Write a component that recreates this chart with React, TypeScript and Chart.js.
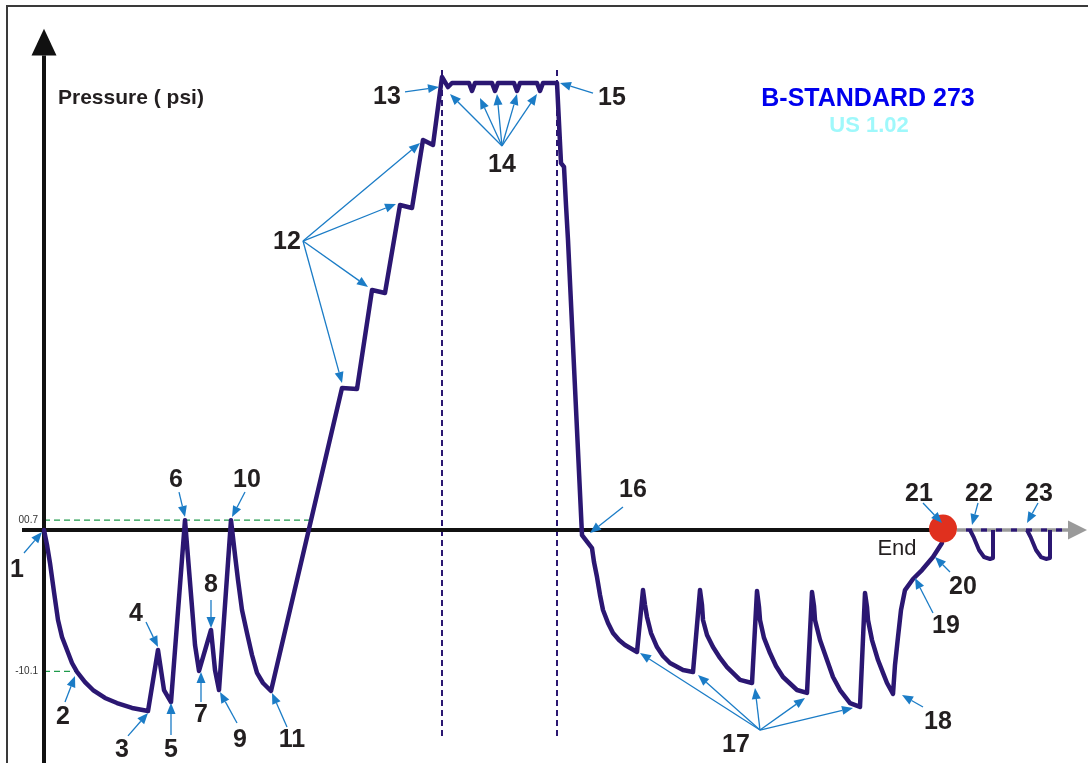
import React, { useEffect, useRef } from 'react';
import { Chart, registerables } from 'chart.js';
Chart.register(...registerables);

// ---- main pressure trace (time units, psi) ----
const mainTime = [
  0, 3, 6, 10, 14, 18, 23, 28, 33, 41, 49, 61, 73, 88, 104, 114, 120, 127, 141, 148, 151, 155, 167, 171, 175, 187,
  191, 194, 198, 203, 208, 213, 219, 227,
  298, 313, 328, 341, 356, 368, 379, 389, 398, 404, 408,
  425, 428, 431, 448, 451, 454, 470, 473, 476, 493, 496, 499, 513,
  517, 520, 522, 524, 538, 548,
  550, 553, 556, 559, 564, 569, 575, 581, 593,
  599, 601, 603, 607, 613, 619, 626, 639, 649,
  656, 658, 659, 663, 669, 676, 683, 696, 708,
  713, 715, 716, 720, 726, 732, 739, 753, 763,
  768, 770, 771, 776, 783, 789, 796, 806, 816,
  821, 823, 824, 828, 834, 839, 843, 849,
  851, 854, 857, 861, 869, 878, 889, 898,
];
const mainPressure = [
  0, -1.07, -2.36, -4.43, -6.43, -7.64, -8.57, -9.5, -10.14, -10.86, -11.43, -12.0, -12.36, -12.71, -12.93, -8.57,
  -11.43, -12.29, 0.7, -5.5, -8.21, -10.07, -7.14, -10.0, -11.43, 0.7,
  -1.79, -3.57, -5.71, -7.36, -8.93, -10.21, -10.93, -11.5,
  10.14, 10.07, 17.14, 16.93, 23.21, 23.0, 27.86, 27.5, 32.36, 31.64, 31.93,
  31.93, 31.36, 31.93, 31.93, 31.36, 31.93, 31.93, 31.36, 31.93, 31.93, 31.36, 31.93, 31.93,
  26.21, 25.93, 23.21, 20.71, -0.36, -1.29,
  -2.29, -3.36, -4.64, -5.71, -6.64, -7.36, -7.86, -8.21, -8.71,
  -4.29, -5.36, -6.21, -7.36, -8.36, -9.0, -9.5, -10.0, -10.14,
  -4.29, -5.36, -6.43, -7.5, -8.36, -9.14, -9.79, -10.71, -10.93,
  -4.36, -5.5, -6.43, -7.71, -8.79, -9.71, -10.5, -11.43, -11.64,
  -4.43, -5.43, -6.43, -7.86, -9.29, -10.5, -11.43, -12.36, -12.64,
  -4.5, -5.5, -6.43, -7.86, -9.29, -10.21, -10.93, -11.71,
  -9.64, -7.64, -5.71, -4.29, -3.5, -2.86, -1.93, -0.93,
];

// ---- repeat cycles after the end point ----
const tailTime = [926, 930, 935, 940, 946, 949, 949, 960, 983, 987, 992, 997, 1002, 1006, 1006];
const tailPressure = [0, -0.57, -1.43, -1.93, -2.07, -2.0, 0, null, 0, -0.57, -1.43, -1.93, -2.07, -2.0, 0];

// ---- end marker ----
const endTime = [899];
const endPressure = [0.1];

// ---- axis reference values ----
const tickValues = [0.7, -10.1];
const tickLabels = ['00.7', '-10.1'];
const tickLineEnd = [266, 34];
const phaseBounds = [398, 513];

// ---- numbered labels ----
const labelTexts = ['1', '2', '3', '4', '5', '6', '7', '8', '9', '10', '11', '12', '13', '14', '15', '16', '17', '18', '19', '20', '21', '22', '23'];
const labelTime = [-27, 19, 78, 92, 127, 132, 157, 167, 196, 203, 248, 243, 343, 458, 568, 589, 692, 894, 902, 919, 875, 935, 995];
const labelPressure = [-2.71, -13.21, -15.57, -5.86, -15.57, 3.71, -13.07, -3.79, -14.86, 3.71, -14.86, 20.71, 31.07, 26.21, 31.0, 3.0, -15.21, -13.57, -6.71, -3.93, 2.71, 2.71, 2.71];

// ---- callout arrows ----
const arrowFromTime = [-20, 21, 84, 102, 127, 135, 157, 167, 193, 201, 243, 259, 259, 259, 259, 361, 458, 458, 458, 458, 458, 549, 579, 716, 716, 716, 716, 716, 879, 889, 906, 879, 934, 994];
const arrowFromPressure = [-1.64, -12.29, -14.71, -6.57, -14.64, 2.71, -12.29, -5.0, -13.79, 2.71, -14.07, 20.64, 20.64, 20.64, 20.64, 31.29, 27.43, 27.43, 27.43, 27.43, 27.43, 31.21, 1.64, -14.29, -14.29, -14.29, -14.29, -14.29, -12.64, -5.93, -3.0, 1.93, 1.93, 1.93];
const arrowToTime = [-2, 31, 104, 114, 127, 141, 157, 167, 176, 188, 228, 376, 352, 324, 298, 395, 406, 436, 453, 473, 493, 516, 546, 596, 654, 711, 761, 809, 858, 871, 891, 898, 928, 983];
const arrowToPressure = [-0.14, -10.43, -13.07, -8.36, -12.36, 0.93, -10.14, -7.0, -11.57, 0.93, -11.64, 27.64, 23.29, 17.36, 10.5, 31.64, 31.14, 30.86, 31.14, 31.14, 31.14, 31.93, -0.21, -8.79, -10.36, -11.29, -12.0, -12.71, -11.79, -3.43, -1.93, 0.5, 0.36, 0.5];

const NAVY = '#2b1772';
const BLUE = '#1b7cc6';
const FONT = '"Liberation Sans", Arial, sans-serif';

const toPoints = (xs: number[], ys: (number | null)[]) => xs.map((x, i) => ({ x, y: ys[i] }));

const diagramPlugin = {
  id: 'diagram',
  beforeDatasetsDraw(chart: any) {
    const ctx: CanvasRenderingContext2D = chart.ctx;
    const X = (v: number) => chart.scales.x.getPixelForValue(v);
    const Y = (v: number) => chart.scales.y.getPixelForValue(v);
    ctx.save();
    // frame
    ctx.strokeStyle = '#3a3a3a';
    ctx.lineWidth = 2;
    ctx.beginPath();
    ctx.moveTo(7, chart.height);
    ctx.lineTo(7, 6);
    ctx.lineTo(chart.width, 6);
    ctx.stroke();

    // phase boundaries
    ctx.strokeStyle = NAVY;
    ctx.lineWidth = 2;
    ctx.setLineDash([6, 4]);
    phaseBounds.forEach((t) => {
      ctx.beginPath();
      ctx.moveTo(X(t), Y(32.86));
      ctx.lineTo(X(t), Y(-14.86));
      ctx.stroke();
    });

    // reference dashes
    ctx.strokeStyle = '#1f9a4b';
    ctx.lineWidth = 1.2;
    ctx.setLineDash([6, 4]);
    tickValues.forEach((v, i) => {
      ctx.beginPath();
      ctx.moveTo(X(0), Y(v));
      ctx.lineTo(X(tickLineEnd[i]), Y(v));
      ctx.stroke();
    });
    ctx.setLineDash([]);
    ctx.fillStyle = '#333';
    ctx.font = `10px ${FONT}`;
    ctx.textAlign = 'right';
    ctx.textBaseline = 'alphabetic';
    tickValues.forEach((v, i) => {
      ctx.fillText(tickLabels[i], X(-6), Y(v) + 3);
    });

    // y axis
    ctx.strokeStyle = '#111';
    ctx.fillStyle = '#111';
    ctx.lineWidth = 4;
    ctx.beginPath();
    ctx.moveTo(X(0), Y(33.9));
    ctx.lineTo(X(0), chart.height);
    ctx.stroke();
    ctx.beginPath();
    ctx.moveTo(X(0), Y(35.8));
    ctx.lineTo(X(0) - 12.5, Y(33.9));
    ctx.lineTo(X(0) + 12.5, Y(33.9));
    ctx.closePath();
    ctx.fill();

    // zero line
    ctx.beginPath();
    ctx.moveTo(X(-22), Y(0));
    ctx.lineTo(X(899), Y(0));
    ctx.stroke();

    // continuation dashed line
    ctx.lineWidth = 3.5;
    ctx.strokeStyle = '#9a9a9a';
    ctx.setLineDash([9, 6]);
    ctx.beginPath();
    ctx.moveTo(X(913), Y(0));
    ctx.lineTo(X(1025), Y(0));
    ctx.stroke();
    ctx.strokeStyle = NAVY;
    ctx.setLineDash([6, 9]);
    ctx.lineDashOffset = 6;
    ctx.beginPath();
    ctx.moveTo(X(913), Y(0));
    ctx.lineTo(X(1025), Y(0));
    ctx.stroke();
    ctx.setLineDash([]);
    ctx.lineDashOffset = 0;
    ctx.fillStyle = '#9a9a9a';
    ctx.beginPath();
    ctx.moveTo(X(1043), Y(0));
    ctx.lineTo(X(1024), Y(0) - 9.5);
    ctx.lineTo(X(1024), Y(0) + 9.5);
    ctx.closePath();
    ctx.fill();
    ctx.restore();
  },
  afterDatasetsDraw(chart: any) {
    const ctx: CanvasRenderingContext2D = chart.ctx;
    const X = (v: number) => chart.scales.x.getPixelForValue(v);
    const Y = (v: number) => chart.scales.y.getPixelForValue(v);
    ctx.save();
    // arrows
    ctx.strokeStyle = BLUE;
    ctx.fillStyle = BLUE;
    ctx.lineWidth = 1.3;
    arrowFromTime.forEach((_, i) => {
      const x1 = X(arrowFromTime[i]);
      const y1 = Y(arrowFromPressure[i]);
      const x2 = X(arrowToTime[i]);
      const y2 = Y(arrowToPressure[i]);
      const a = Math.atan2(y2 - y1, x2 - x1);
      const L = 11;
      const W = 4.5;
      const bx = x2 - L * Math.cos(a);
      const by = y2 - L * Math.sin(a);
      ctx.beginPath();
      ctx.moveTo(x1, y1);
      ctx.lineTo(bx, by);
      ctx.stroke();
      ctx.beginPath();
      ctx.moveTo(x2, y2);
      ctx.lineTo(bx + W * Math.sin(a), by - W * Math.cos(a));
      ctx.lineTo(bx - W * Math.sin(a), by + W * Math.cos(a));
      ctx.closePath();
      ctx.fill();
    });

    // numbered labels
    ctx.fillStyle = '#231f20';
    ctx.textAlign = 'center';
    ctx.textBaseline = 'alphabetic';
    const size = 25;
    ctx.font = `bold ${size}px ${FONT}`;
    labelTexts.forEach((txt, i) => {
      ctx.fillText(txt, X(labelTime[i]), Y(labelPressure[i]) + size * 0.358);
    });

    // End text
    ctx.font = `22px ${FONT}`;
    ctx.fillText('End', X(853), Y(-1.21) + 22 * 0.358);

    // axis title
    ctx.textAlign = 'left';
    ctx.font = `bold 21px ${FONT}`;
    ctx.fillText('Pressure ( psi)', X(14), Y(31.0) + 21 * 0.358);

    // header
    ctx.textAlign = 'center';
    ctx.fillStyle = '#0000ee';
    ctx.font = `bold 25px ${FONT}`;
    ctx.fillText('B-STANDARD 273', X(824), Y(30.93) + 25 * 0.358);
    ctx.fillStyle = '#9ff8fb';
    ctx.font = `bold 22px ${FONT}`;
    ctx.fillText('US 1.02', X(825), Y(29.0) + 22 * 0.358);
    ctx.restore();
  },
};

export default function App() {
  const ref = useRef<HTMLCanvasElement>(null);
  useEffect(() => {
    if (!ref.current) return;
    const chart = new Chart(ref.current, {
      type: 'line',
      data: {
        datasets: [
          {
            label: 'End',
            data: toPoints(endTime, endPressure),
            showLine: false,
            pointRadius: 14,
            pointBackgroundColor: '#e0301e',
            pointBorderWidth: 0,
            pointBorderColor: '#e0301e',
            order: 0,
          },
          {
            label: 'Pressure',
            data: toPoints(mainTime, mainPressure),
            borderColor: NAVY,
            borderWidth: 4.5,
            pointRadius: 0,
            tension: 0,
            fill: false,
            borderJoinStyle: 'round',
            borderCapStyle: 'round',
            order: 1,
          },
          {
            label: 'Repeat',
            data: toPoints(tailTime, tailPressure),
            borderColor: NAVY,
            borderWidth: 4,
            pointRadius: 0,
            tension: 0,
            fill: false,
            spanGaps: false,
            borderJoinStyle: 'round',
            order: 2,
          },
        ] as any,
      },
      options: {
        animation: false,
        responsive: true,
        maintainAspectRatio: false,
        events: [],
        layout: { padding: 0, autoPadding: false },
        plugins: { legend: { display: false }, tooltip: { enabled: false }, title: { display: false } },
        scales: {
          x: { type: 'linear', min: -44, max: 1044, display: false },
          y: { type: 'linear', min: -16.643, max: 37.857, display: false },
        },
      },
      plugins: [diagramPlugin],
    });
    return () => chart.destroy();
  }, []);
  return (
    <div style={{ position: 'fixed', left: 0, top: 0, width: 1088, height: 763, background: '#fff' }}>
      <canvas ref={ref} />
    </div>
  );
}
